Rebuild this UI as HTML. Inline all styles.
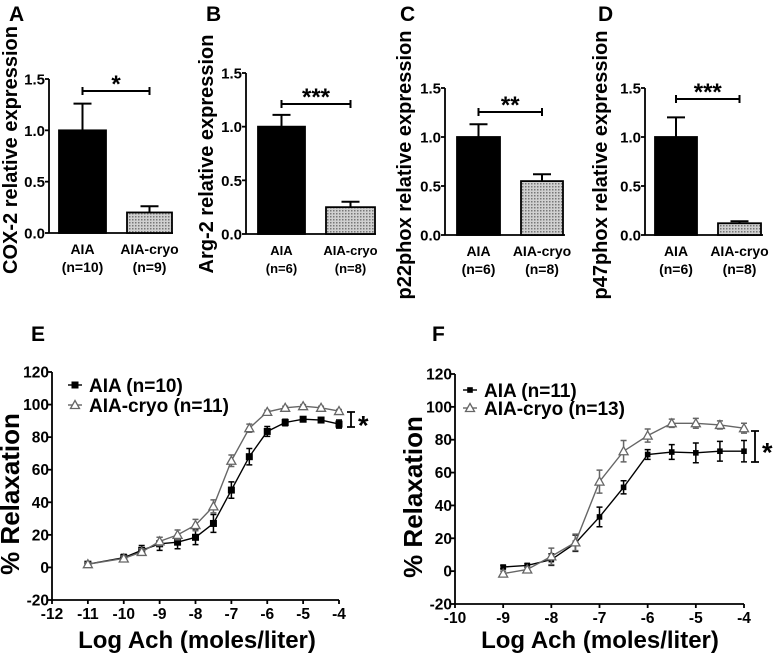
<!DOCTYPE html>
<html><head><meta charset="utf-8"><style>
html,body{margin:0;padding:0;background:#fff;}
svg{display:block;font-family:"Liberation Sans",Arial,sans-serif;font-weight:bold;}
</style></head><body>
<svg id="fig" width="777" height="660" viewBox="0 0 777 660" xmlns="http://www.w3.org/2000/svg">
<defs>
<pattern id="dots" width="3" height="3" patternUnits="userSpaceOnUse">
<rect width="3" height="3" fill="#d0d0d0"/><rect width="1.5" height="1.5" fill="#777"/>
</pattern>
</defs>
</svg>
<script>
// ---- bar panel data ----
const barGroups = ["AIA", "AIA-cryo"];
const barN_A = ["(n=10)", "(n=9)"];
const barN_B = ["(n=6)", "(n=8)"];
const barN_C = ["(n=6)", "(n=8)"];
const barN_D = ["(n=6)", "(n=8)"];
const barVals_A = [1.0, 0.2];
const barErr_A = [0.26, 0.06];
const barVals_B = [1.0, 0.25];
const barErr_B = [0.11, 0.05];
const barVals_C = [1.0, 0.55];
const barErr_C = [0.13, 0.07];
const barVals_D = [1.0, 0.12];
const barErr_D = [0.20, 0.02];
const barTicks = [0.0, 0.5, 1.0, 1.5];
const barTickLabels = ["0.0", "0.5", "1.0", "1.5"];
const sigLabels = ["*", "***", "**", "***"];

// ---- curve panel data ----
const xE = [-11,-10,-9.5,-9,-8.5,-8,-7.5,-7,-6.5,-6,-5.5,-5,-4.5,-4];
const aiaE = [2,6,10.5,14.5,15.5,18.5,27,47.5,68,83.5,89,91,90.5,88];
const aiaEerr = [1,2,3,4,4,4.5,5.5,5,5,3,2,1.5,1.5,2.5];
const cryoE = [2,5.5,9.5,16,20,26,37.5,65.5,85.5,95.5,98,99,98,96];
const cryoEerr = [1,1.5,2,2.5,3,3.5,4,3.5,2.5,1,1,1,1,1];
const xF = [-9,-8.5,-8,-7.5,-7,-6.5,-6,-5.5,-5,-4.5,-4];
const aiaF = [2.5,3.5,7,17,33,51,71,72.5,72,73,73];
const aiaFerr = [1,1,3.5,5,6,4,3,4.5,6,6,6.5];
const cryoF = [-1.5,1,9,17.5,54.5,73,82.5,90,90,89,87];
const cryoFerr = [1.5,1.5,5,5,7,6.5,4,2.5,3,2.5,3];
const yTicksCurve = [-20,0,20,40,60,80,100,120];
const xTicksE = [-12,-11,-10,-9,-8,-7,-6,-5,-4];
const xTicksF = [-10,-9,-8,-7,-6,-5,-4];

const NS = "http://www.w3.org/2000/svg";
const svg = document.getElementById("fig");
function mk(tag, attrs, parent, text){
  const e = document.createElementNS(NS, tag);
  for (const k in attrs) e.setAttribute(k, attrs[k]);
  if (text !== undefined) e.textContent = text;
  (parent || svg).appendChild(e);
  return e;
}

function barPanel(o){
  const g = mk("g", {});
  
  
  const y = v => o.y0 - (v / 1.5) * (o.y0 - o.y15);
  const lab = mk("text", {x:o.letterX, y:21, "font-size":21}, g, o.id.toUpperCase());
  
  
  const ya = mk("line", {x1:o.ax, y1:o.y15, x2:o.ax, y2:o.y0, stroke:"#000","stroke-width":1.8}, g);
  
  
  const xa = mk("line", {x1:o.ax, y1:o.y0, x2:o.axEnd, y2:o.y0, stroke:"#000","stroke-width":1.8}, g);
  
  
  barTicks.forEach((t,i)=>{
    mk("line",{x1:o.ax-4,y1:y(t),x2:o.ax,y2:y(t),stroke:"#000","stroke-width":1.8},g);
    const tl = mk("text",{x:o.ax-4,y:y(t)+5.5,"font-size":15,"text-anchor":"end"},g,barTickLabels[i]);
    
    
  });
  const tt = mk("text",{x:0,y:0,"font-size":20,"text-anchor":"middle",transform:`translate(${o.titleX},${o.titleY}) rotate(-90)`},g,o.title);
  
  
  o.vals.forEach((v,i)=>{
    const [x1,x2] = o.bars[i];
    const cx = (x1+x2)/2;
    const top = y(v + o.err[i]);
    mk("line",{x1:cx,y1:y(v),x2:cx,y2:top,stroke:"#000","stroke-width":2},g);
    mk("line",{x1:cx-9,y1:top,x2:cx+9,y2:top,stroke:"#000","stroke-width":2},g);
    const r = mk("rect",{x:x1,y:y(v),width:x2-x1,height:o.y0-y(v),fill:i===0?"#000":"url(#dots)",stroke:"#000","stroke-width":1.8},g);
    
    
    const l1 = mk("text",{x:cx,y:o.y0+21,"font-size":o.lfs,"text-anchor":"middle"},g,barGroups[i]);
    
    
    const l2 = mk("text",{x:cx,y:o.y0+39,"font-size":o.lfs,"text-anchor":"middle"},g,o.n[i]);
    
    
  });
  const sx1 = (o.bars[0][0]+o.bars[0][1])/2, sx2 = (o.bars[1][0]+o.bars[1][1])/2;
  const sb = mk("path",{d:`M${sx1},${o.sigY}H${sx2}M${sx1},${o.sigY-4}V${o.sigY+4}M${sx2},${o.sigY-4}V${o.sigY+4}`,stroke:"#000","stroke-width":2,fill:"none"},g);
  
  
  const st = mk("text",{x:(sx1+sx2)/2,y:o.sigY+1,"font-size":24,"text-anchor":"middle"},g,o.sig);
  
  
}

barPanel({id:"a",letterX:9,ax:49,axEnd:173,y0:233,y15:79,bars:[[59,106],[127,172]],vals:barVals_A,err:barErr_A,n:barN_A,title:"COX-2 relative expression",titleX:17,titleY:150,sigY:91,sig:sigLabels[0],lfs:14});
barPanel({id:"b",letterX:206,ax:246,axEnd:376,y0:234,y15:73,bars:[[258,305],[326,375]],vals:barVals_B,err:barErr_B,n:barN_B,title:"Arg-2 relative expression",titleX:213,titleY:154,sigY:104,sig:sigLabels[1],lfs:13});
barPanel({id:"c",letterX:400,ax:445,axEnd:565,y0:235,y15:88,bars:[[457,500],[521,563]],vals:barVals_C,err:barErr_C,n:barN_C,title:"p22phox relative expression",titleX:411,titleY:165,sigY:112,sig:sigLabels[2],lfs:14});
barPanel({id:"d",letterX:598,ax:645,axEnd:763,y0:235,y15:88,bars:[[655,697],[718,761]],vals:barVals_D,err:barErr_D,n:barN_D,title:"p47phox relative expression",titleX:607,titleY:165,sigY:99,sig:sigLabels[3],lfs:14});

function curvePanel(o){
  const g = mk("g",{});
  
  
  const X = v => o.ax + (v - o.xmin) / (o.xmax - o.xmin) * (o.xEnd - o.ax);
  const Y = v => o.y0 - (v + 20) / 140 * (o.y0 - o.y120);
  const le = mk("text",{x:o.letterX,y:341,"font-size":21},g,o.id.toUpperCase());
  
  
  const ti = mk("text",{x:o.titleCX,y:342,"font-size":24,"text-anchor":"middle"},g,o.title);
  
  
  const ya = mk("line",{x1:o.ax,y1:o.y120,x2:o.ax,y2:o.y0,stroke:"#000","stroke-width":1.8},g);
  
  
  const xa = mk("line",{x1:o.ax,y1:o.y0,x2:o.xEnd,y2:o.y0,stroke:"#000","stroke-width":1.8},g);
  
  
  yTicksCurve.forEach(t=>{
    mk("line",{x1:o.ax-4,y1:Y(t),x2:o.ax,y2:Y(t),stroke:"#000","stroke-width":1.8},g);
    const tl = mk("text",{x:o.ax-3,y:Y(t)+5.5,"font-size":15.5,"text-anchor":"end"},g,String(t));
    
    
  });
  o.xt.forEach(t=>{
    mk("line",{x1:X(t),y1:o.y0,x2:X(t),y2:o.y0+4,stroke:"#000","stroke-width":1.8},g);
    const tl = mk("text",{x:X(t),y:o.y0+19,"font-size":15.5,"text-anchor":"middle"},g,String(t));
    
    
  });
  const yt = mk("text",{x:0,y:0,"font-size":26,"text-anchor":"middle",transform:`translate(${o.ax-33},${(o.y0+o.y120)/2+8}) rotate(-90)`},g,"% Relaxation");
  
  
  const xt = mk("text",{x:o.xtCX,y:648,"font-size":24,"text-anchor":"middle"},g,"Log Ach (moles/liter)");
  
  
  function series(xs, ys, es, color, tri, name){
    const sg = mk("g",{},g);
    
    
    mk("polyline",{points:xs.map((x,i)=>X(x)+","+Y(ys[i])).join(" "),fill:"none",stroke:color,"stroke-width":1.4},sg);
    xs.forEach((x,i)=>{
      const cx=X(x), t=Y(ys[i]+es[i]), b=Y(ys[i]-es[i]);
      mk("path",{d:`M${cx},${t}V${b}M${cx-3},${t}H${cx+3}M${cx-3},${b}H${cx+3}`,stroke:color,"stroke-width":1.5,fill:"none"},sg);
      const cy=Y(ys[i]);
      let m;
      if(tri) m = mk("path",{d:`M${cx},${cy-4.5}L${cx+4.5},${cy+3.5}L${cx-4.5},${cy+3.5}Z`,fill:"#fff",stroke:color,"stroke-width":1.3},sg);
      else m = mk("rect",{x:cx-o.ms,y:cy-o.ms,width:2*o.ms,height:2*o.ms,fill:"#000"},sg);
      
      
    });
  }
  series(o.x, o.aia, o.aiaErr, "#000", false, "series-aia");
  series(o.x, o.cryo, o.cryoErr, "#666", true, "series-aia-cryo");
  const lg = mk("g",{},g);
  
  
  mk("line",{x1:o.legX-7,y1:o.legY1,x2:o.legX+7,y2:o.legY1,stroke:"#000","stroke-width":1.4},lg);
  mk("rect",{x:o.legX-o.ms,y:o.legY1-o.ms,width:2*o.ms,height:2*o.ms,fill:"#000"},lg);
  const t1 = mk("text",{x:o.legX+14,y:o.legY1+7,"font-size":19},lg,o.leg[0]);
  
  
  mk("line",{x1:o.legX-7,y1:o.legY2,x2:o.legX+7,y2:o.legY2,stroke:"#666","stroke-width":1.4},lg);
  mk("path",{d:`M${o.legX},${o.legY2-4.5}L${o.legX+4.5},${o.legY2+3.5}L${o.legX-4.5},${o.legY2+3.5}Z`,fill:"#fff",stroke:"#666","stroke-width":1.3},lg);
  const t2 = mk("text",{x:o.legX+14,y:o.legY2+7,"font-size":19},lg,o.leg[1]);
  
  
  const br = mk("path",{d:`M${o.brX},${o.brY1}V${o.brY2}M${o.brX-4},${o.brY1}H${o.brX+4}M${o.brX-4},${o.brY2}H${o.brX+4}`,stroke:"#000","stroke-width":1.8,fill:"none"},g);
  
  
  const bs = mk("text",{x:o.brX+7,y:(o.brY1+o.brY2)/2+15,"font-size":27},g,"*");
  
  
}

curvePanel({id:"e",letterX:31,titleCX:203,xtCX:197,ax:52,xEnd:339,xmin:-12,xmax:-4,y0:600,y120:372,x:xE,aia:aiaE,aiaErr:aiaEerr,cryo:cryoE,cryoErr:cryoEerr,xt:xTicksE,ms:3.5,legX:75,legY1:385,legY2:405,leg:["AIA (n=10)","AIA-cryo (n=11)"],brX:351,brY1:412,brY2:427});
curvePanel({id:"f",letterX:432,titleCX:610,xtCX:600,ax:455,xEnd:744,xmin:-10,xmax:-4,y0:604,y120:374,x:xF,aia:aiaF,aiaErr:aiaFerr,cryo:cryoF,cryoErr:cryoFerr,xt:xTicksF,ms:2.8,legX:470,legY1:390,legY2:408,leg:["AIA (n=11)","AIA-cryo (n=13)"],brX:755,brY1:431,brY2:462});
</script>
</body></html>
